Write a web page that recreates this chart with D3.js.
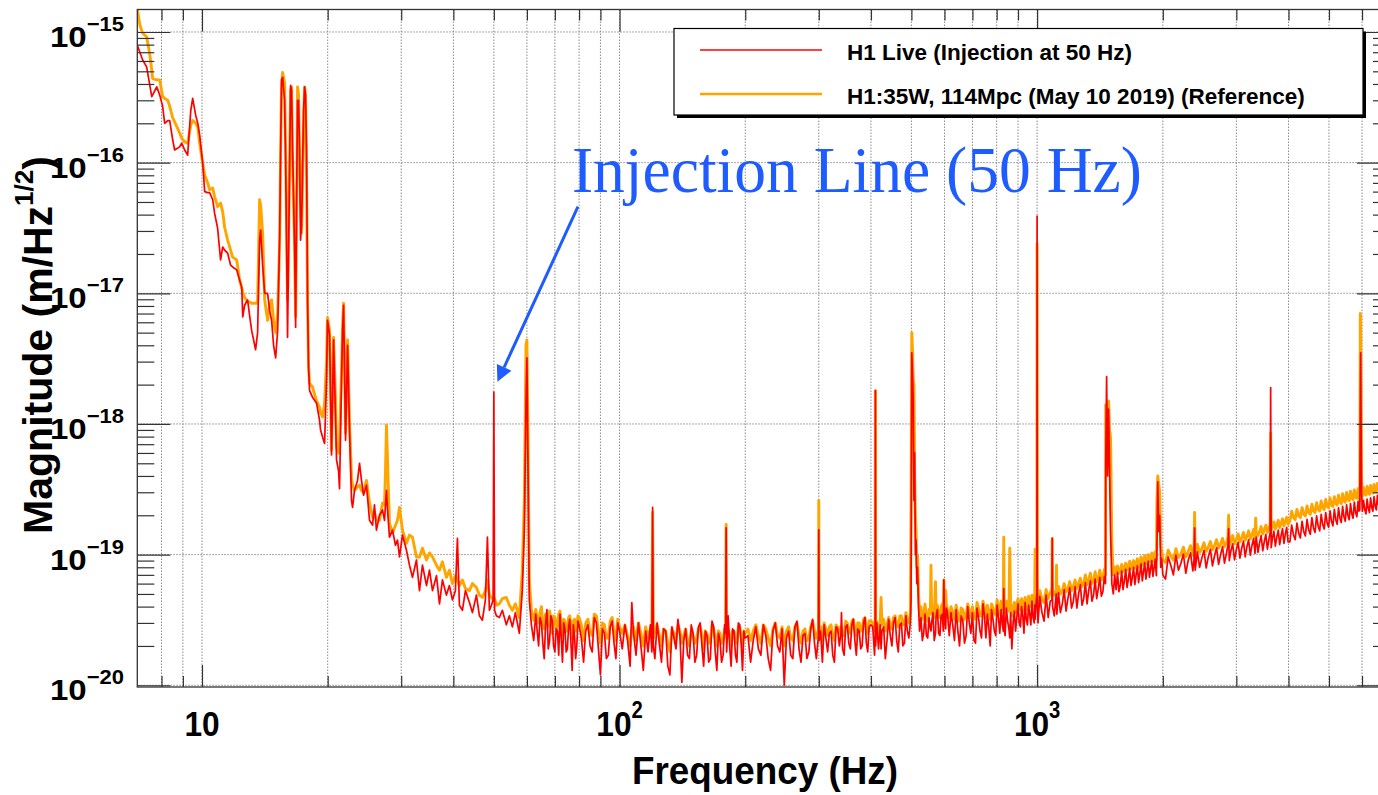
<!DOCTYPE html>
<html>
<head>
<meta charset="utf-8">
<script src="https://cdn.jsdelivr.net/npm/d3@7"></script>
<style>
  body { margin: 0; background: #fff; }
  svg { display: block; font-family: 'Liberation Sans', Arial, Helvetica, sans-serif; }
</style>
</head>
<body>
<svg id="chart" width="1378" height="795"></svg>
<script>
// shared frequency bins (Hz)
const freqHz = [
  // 7 - 62 Hz
  7.0, 7.10, 7.21, 7.37, 7.50, 7.58, 7.62, 7.79, 7.92, 8.05,
  8.14, 8.28, 8.37, 8.51, 8.60, 8.84, 8.94, 9.09, 9.24, 9.40,
  9.50, 9.66, 9.77, 9.87, 10.04, 10.15, 10.32, 10.43, 10.61, 10.72,
  10.90, 11.08, 11.21, 11.33, 11.52, 11.71, 11.84, 12.11, 12.31, 12.45,
  12.52, 12.65, 12.86, 13.00, 13.15, 13.44, 13.59, 13.74, 13.82, 13.97,
  14.13, 14.36, 14.52, 14.68, 14.84, 15.01, 15.18, 15.35, 15.43, 15.51,
  15.60, 15.77, 15.86, 15.95, 16.03, 16.21, 16.30, 16.39, 16.48, 16.67,
  16.76, 16.85, 16.94, 17.03, 17.13, 17.22, 17.32, 17.51, 17.61, 17.70,
  17.80, 17.90, 18.00, 18.10, 18.40, 18.81, 19.12, 19.23, 19.45, 19.66,
  19.88, 19.98, 20.21, 20.43, 20.66, 20.89, 21.00, 21.23, 21.35, 21.59,
  21.71, 21.83, 21.95, 22.07, 22.32, 22.56, 22.81, 22.94, 23.19, 23.58,
  23.84, 24.10, 24.37, 24.77, 25.19, 25.61, 25.89, 26.17, 26.61, 27.06,
  27.36, 27.51, 27.66, 27.82, 28.12, 28.59, 29.07, 29.39, 29.72, 30.21,
  30.88, 31.40, 31.92, 32.63, 33.18, 33.73, 34.49, 35.06, 35.65, 36.44,
  37.05, 37.66, 38.49, 39.13, 39.79, 40.45, 40.90, 41.35, 42.04, 42.75,
  43.70, 44.43, 45.42, 46.18, 46.94, 47.72, 48.26, 48.79, 49.33, 49.8,
  50.0, 50.2, 50.70, 51.54, 52.40, 53.57, 54.46, 55.38, 56.30, 57.54,
  58.50, 59.16, 59.7, 60.0, 60.3, 60.8, 61.5, 62.3,
  // 63 - 100 Hz
  63, 63.5, 64, 64.5, 65, 65.5, 66, 66.5, 67, 67.5,
  68, 68.5, 69, 69.5, 70, 70.5, 71, 71.5, 72, 72.5,
  73, 73.5, 74, 74.5, 75, 75.5, 76, 76.5, 77, 77.5,
  78, 78.5, 79, 79.5, 80,
  81, 82, 83, 84, 85, 86, 87, 88, 89, 90,
  91, 92, 93, 94, 95, 96, 97, 98, 99, 100,
  // 100 - 200 Hz
  101.5, 103, 104.5, 106, 107, 108, 109.5, 111, 112.5, 114,
  115.5, 117, 118.5, 119.5, 120, 120.5, 121.5, 123, 124.5, 126,
  127.5, 129, 130.5, 132, 133.5, 135, 136.5, 138, 139.5, 141,
  142.5, 144, 145.5, 147, 148.5, 150, 151.5, 153, 154.5, 156,
  157.5, 159, 160.5, 162, 163.5, 165, 166.5, 168, 169.5, 171,
  172.5, 174, 175.5, 177, 178.5, 179.5, 180, 180.5, 182, 183.5,
  185, 186.5, 188, 189.5, 191, 192.5, 194, 195.5, 197, 198.5,
  200,
  // 200 - 400 Hz
  203, 206, 209, 212, 215, 218, 221, 224, 227, 230,
  233, 236, 239, 242, 245, 248, 251, 254, 257, 260,
  263, 266, 269, 272, 275, 278, 281, 284, 287, 290,
  293, 296, 299.5, 300, 300.5, 303, 306, 309, 312, 315,
  318, 321, 324, 327, 330, 333, 336, 339, 340, 342,
  345, 348, 351, 354, 357, 360, 363, 366, 369, 372,
  375, 378, 381, 384, 387, 390, 393, 396, 400,
  // 400 - 610 Hz
  404, 408, 409.5, 410, 410.5, 413, 417, 421, 423, 425,
  429, 433, 437, 441, 445, 449, 453, 457, 461, 465,
  469, 473, 477, 481, 485, 489, 493, 497, 499, 501,
  503, 505, 507, 509, 511, 513, 515, 517, 520, 523,
  527, 531, 535, 539, 543, 547, 551, 555, 557, 559,
  563, 567, 571, 573, 577, 581, 585, 589, 593, 596,
  598, 600, 602, 604, 606, 610,
  // 610 - 1000 Hz
  616, 622, 628, 634, 640, 646, 652, 658, 664, 670,
  676, 682, 688, 694, 700, 706, 712, 718, 724, 730,
  736, 742, 748, 754, 760, 766, 772, 778, 784, 790,
  796, 802, 808, 814, 820, 826, 830, 832, 834, 838,
  844, 850, 856, 860, 864, 870, 876, 882, 888, 894,
  900, 906, 912, 918, 924, 930, 936, 942, 948, 954,
  960, 966, 972, 978, 984, 987, 989, 991, 995, 999,
  1000, 1000.5, 1002,
  // 1000 - 2000 Hz
  1005, 1015, 1027, 1039, 1051, 1063, 1075, 1085, 1087, 1089,
  1099, 1111, 1113, 1115, 1125, 1137, 1149, 1161, 1173, 1185,
  1197, 1209, 1221, 1233, 1245, 1257, 1269, 1281, 1293, 1305,
  1317, 1329, 1341, 1353, 1365, 1377, 1389, 1401, 1413, 1425,
  1437, 1449, 1458, 1460, 1467, 1475, 1483, 1491, 1499, 1510,
  1522, 1534, 1546, 1558, 1570, 1582, 1594, 1606, 1618, 1630,
  1642, 1654, 1666, 1678, 1690, 1702, 1714, 1726, 1738, 1750,
  1762, 1774, 1786, 1798, 1810, 1822, 1834, 1846, 1858, 1870,
  1882, 1894, 1906, 1918, 1930, 1936, 1945, 1956, 1966, 1977,
  1988, 2000,
  // 2000 - 4000 Hz
  2030, 2060, 2090, 2120, 2150, 2180, 2210, 2240, 2270, 2300,
  2330, 2360, 2375, 2383, 2391, 2420, 2450, 2480, 2510, 2540,
  2570, 2600, 2630, 2660, 2690, 2720, 2750, 2780, 2810, 2840,
  2865, 2875, 2885, 2910, 2940, 2970, 3000, 3030, 3060, 3090,
  3120, 3150, 3180, 3210, 3240, 3270, 3300, 3325, 3337, 3349,
  3380, 3410, 3440, 3470, 3500, 3530, 3560, 3590, 3615, 3625,
  3635, 3660, 3690, 3720, 3750, 3780, 3810, 3840, 3870, 3900,
  3930, 3960, 3990,
  // 4000 - 6570 Hz
  4030, 4070, 4110, 4150, 4190, 4230, 4270, 4310, 4350, 4390,
  4430, 4470, 4510, 4550, 4590, 4630, 4670, 4710, 4750, 4790,
  4830, 4870, 4910, 4950, 4990, 5030, 5070, 5110, 5150, 5190,
  5230, 5270, 5310, 5350, 5390, 5430, 5470, 5510, 5550, 5590,
  5630, 5670, 5710, 5750, 5790, 5830, 5870, 5900, 5925, 5935,
  5943, 5955, 5968, 5985, 6010, 6050, 6090, 6130, 6170, 6210,
  6250, 6290, 6330, 6370, 6410, 6450, 6490, 6530, 6570
]

// H1 Live (Injection at 50 Hz), m/Hz^1/2
const liveMag = [
  7.9e-16, 7.0e-16, 6.1e-16, 5.4e-16, 3.9e-16, 3.2e-16, 3.3e-16, 3.8e-16, 3.3e-16, 2.7e-16,
  2.0e-16, 2.1e-16, 2.1e-16, 1.49e-16, 1.25e-16, 1.32e-16, 1.41e-16, 1.25e-16, 1.14e-16, 2.5e-16,
  3.1e-16, 2.3e-16, 2.0e-16, 1.63e-16, 9.9e-17, 6.0e-17, 5.9e-17, 5.9e-17, 5.2e-17, 4.1e-17,
  3.15e-17, 1.8e-17, 2.26e-17, 2.14e-17, 2.03e-17, 1.64e-17, 1.59e-17, 1.51e-17, 1.26e-17, 1.11e-17,
  6.6e-18, 8.1e-18, 8.9e-18, 6.8e-18, 5.2e-18, 3.7e-18, 5.0e-18, 2.55e-17, 3.05e-17, 1.64e-17,
  1.0e-17, 1.0e-17, 7.4e-18, 6.2e-18, 4.0e-18, 3.2e-18, 5.2e-18, 2.9e-17, 1.25e-16, 4.3e-16,
  4.5e-16, 3.0e-16, 1.05e-16, 2.14e-17, 4.6e-18, 8.8e-17, 3.9e-16, 3.6e-16, 1.25e-16, 2.14e-17,
  5.5e-18, 5.2e-17, 3.0e-16, 3.0e-16, 1.25e-16, 2.55e-17, 3.3e-17, 2.5e-16, 3.8e-16, 3.3e-16,
  1.25e-16, 8.9e-18, 2.7e-18, 1.8e-18, 1.6e-18, 1.44e-18, 1.07e-18, 9.0e-19, 7.9e-19, 7.1e-19,
  2.2e-18, 6.2e-18, 4.8e-18, 5.8e-19, 4.4e-18, 1.07e-18, 5.3e-19, 4.4e-19, 3.2e-19, 2.2e-18,
  5.2e-18, 8.1e-18, 2.6e-18, 7.5e-19, 4.0e-18, 9.0e-19, 2.6e-19, 2.3e-19, 3.1e-19, 3.7e-19,
  5.0e-19, 3.7e-19, 2.85e-19, 3.4e-19, 1.83e-19, 1.68e-19, 2.4e-19, 1.54e-19, 2.0e-19, 2.2e-19,
  1.83e-19, 2.4e-19, 3.1e-19, 2.2e-19, 1.36e-19, 1.54e-19, 1.18e-19, 1.29e-19, 9.6e-20, 1.41e-19,
  1.08e-19, 8.3e-20, 6.7e-20, 9.1e-20, 5.3e-20, 8.3e-20, 5.8e-20, 7.6e-20, 5.3e-20, 6.9e-20,
  4.2e-20, 6.4e-20, 4.9e-20, 5.8e-20, 4.5e-20, 5.3e-20, 1.33e-19, 4.1e-20, 3.75e-20, 5.3e-20,
  4.3e-20, 3.6e-20, 4.9e-20, 3.4e-20, 3.15e-20, 4.5e-20, 1.36e-19, 3.75e-20, 4.1e-20, 4.5e-20,
  1.75e-18, 3.75e-20, 3.4e-20, 3.3e-20, 3.75e-20, 2.9e-20, 3.4e-20, 2.8e-20, 3.6e-20, 2.5e-20,
  5.3e-20, 1.54e-19, 1.5e-18, 3.2e-18, 6.3e-19, 4.5e-20, 2.9e-20, 2.2e-20,
  3.5e-20, 2.6e-20, 2.0e-20, 3.3e-20, 3.0e-20, 2.1e-20, 1.6e-20, 2.9e-20, 3.8e-20, 1.9e-20,
  2.2e-20, 3.4e-20, 3.1e-20, 2.0e-20, 1.8e-20, 2.7e-20, 2.6e-20, 1.7e-20, 3.5e-20, 2.3e-20,
  1.5e-20, 3.0e-20, 2.7e-20, 1.8e-20, 1.9e-20, 2.8e-20, 3.2e-20, 2.1e-20, 1.3e-20, 2.9e-20,
  2.4e-20, 1.6e-20, 2.0e-20, 3.1e-20, 2.9e-20,
  2.3e-20, 1.5e-20, 2.6e-20, 2.9e-20, 2.0e-20, 1.8e-20, 3.3e-20, 3.0e-20, 1.9e-20, 1.2e-20,
  2.7e-20, 2.5e-20, 1.6e-20, 1.7e-20, 2.8e-20, 3.1e-20, 2.1e-20, 1.6e-20, 3.0e-20, 2.6e-20,
  1.9e-20, 2.9e-20, 2.2e-20, 1.4e-20, 4.3e-20, 2.5e-20, 1.7e-20, 3.0e-20, 2.0e-20, 1.3e-20,
  2.6e-20, 1.8e-20, 2.9e-20, 1.8e-20, 23e-20, 2.0e-20, 1.6e-20, 3.0e-20, 2.1e-20, 1.5e-20,
  2.7e-20, 2.6e-20, 1.4e-20, 1.2e-20, 2.8e-20, 2.3e-20, 1.9e-20, 3.2e-20, 2.4e-20, 1.05e-20,
  2.2e-20, 2.7e-20, 1.7e-20, 1.6e-20, 2.9e-20, 2.5e-20, 1.5e-20, 1.7e-20, 2.8e-20, 3.0e-20,
  2.0e-20, 1.4e-20, 2.6e-20, 2.4e-20, 1.5e-20, 1.6e-20, 3.1e-20, 2.8e-20, 1.8e-20, 1.3e-20,
  2.5e-20, 2.2e-20, 1.5e-20, 1.7e-20, 2.9e-20, 2.5e-20, 16e-20, 1.8e-20, 3.4e-20, 2.0e-20,
  1.4e-20, 2.7e-20, 2.6e-20, 1.7e-20, 1.5e-20, 3.0e-20, 2.9e-20, 2.1e-20, 1.3e-20, 2.6e-20,
  2.3e-20,
  2.4e-20, 1.5e-20, 2.2e-20, 2.8e-20, 1.9e-20, 1.7e-20, 2.9e-20, 2.4e-20, 1.6e-20, 1.3e-20,
  2.6e-20, 3.0e-20, 2.0e-20, 1.8e-20, 2.7e-20, 1.0e-20, 2.3e-20, 2.6e-20, 1.7e-20, 1.6e-20,
  2.8e-20, 3.1e-20, 1.9e-20, 1.5e-20, 2.4e-20, 2.5e-20, 1.6e-20, 1.8e-20, 2.7e-20, 3.2e-20,
  2.1e-20, 1.6e-20, 2.4e-20, 15.5e-20, 2.2e-20, 2.6e-20, 1.5e-20, 2.9e-20, 2.3e-20, 1.8e-20,
  2.5e-20, 2.6e-20, 1.7e-20, 1.5e-20, 2.8e-20, 2.7e-20, 2.0e-20, 2.5e-20, 3.6e-20, 1.9e-20,
  1.7e-20, 2.8e-20, 2.9e-20, 2.1e-20, 1.9e-20, 2.9e-20, 3.2e-20, 2.2e-20, 1.7e-20, 2.7e-20,
  2.6e-20, 1.9e-20, 2.0e-20, 3.0e-20, 3.3e-20, 2.1e-20, 1.8e-20, 2.8e-20, 2.9e-20,
  2.8e-20, 1.7e-20, 2.4e-20, 180e-20, 2.0e-20, 3.0e-20, 1.9e-20, 2.9e-20, 1.9e-20, 2.6e-20,
  2.8e-20, 1.6e-20, 2.2e-20, 3.2e-20, 2.4e-20, 2.0e-20, 3.0e-20, 3.3e-20, 2.2e-20, 1.8e-20,
  2.9e-20, 3.0e-20, 2.0e-20, 2.1e-20, 3.4e-20, 2.6e-20, 2.3e-20, 3.0e-20, 4.5e-20, 350e-20,
  250e-20, 150e-20, 26e-20, 60e-20, 10e-20, 13e-20, 6.0e-20, 8.0e-20, 4.0e-20, 2.6e-20,
  3.3e-20, 2.2e-20, 2.5e-20, 3.5e-20, 2.4e-20, 2.3e-20, 3.3e-20, 2.7e-20, 2.6e-20, 3.0e-20,
  3.6e-20, 2.2e-20, 2.5e-20, 3.4e-20, 3.8e-20, 2.5e-20, 2.4e-20, 3.4e-20, 3.5e-20, 2.6e-20,
  6.4e-20, 3.3e-20, 2.9e-20, 2.7e-20, 3.9e-20, 3.6e-20,
  2.4e-20, 3.6e-20, 2.9e-20, 2.2e-20, 3.8e-20, 2.6e-20, 2.0e-20, 3.4e-20, 3.1e-20, 2.1e-20,
  2.4e-20, 4.0e-20, 3.0e-20, 2.5e-20, 3.6e-20, 2.2e-20, 2.1e-20, 3.9e-20, 3.3e-20, 2.6e-20,
  2.3e-20, 4.2e-20, 3.4e-20, 2.3e-20, 3.5e-20, 2.8e-20, 2.0e-20, 3.8e-20, 3.2e-20, 2.6e-20,
  2.4e-20, 4.1e-20, 3.3e-20, 2.5e-20, 3.8e-20, 2.9e-20, 2.6e-20, 5.5e-20, 2.7e-20, 2.4e-20,
  3.9e-20, 3.1e-20, 2.7e-20, 2.3e-20, 3.6e-20, 1.9e-20, 3.0e-20, 3.7e-20, 2.6e-20, 3.3e-20,
  4.2e-20, 3.0e-20, 2.8e-20, 4.0e-20, 3.4e-20, 2.5e-20, 4.3e-20, 3.2e-20, 2.9e-20, 4.1e-20,
  3.5e-20, 2.9e-20, 4.4e-20, 3.3e-20, 3.0e-20, 4.1e-20, 3.2e-20, 3.6e-20, 4.4e-20, 5.0e-20,
  3900e-20, 8.0e-20, 4.0e-20,
  3.0e-20, 4.8e-20, 3.6e-20, 3.1e-20, 4.9e-20, 3.3e-20, 4.4e-20, 4.5e-20, 13.3e-20, 4.0e-20,
  3.4e-20, 5.0e-20, 4.2e-20, 3.5e-20, 5.1e-20, 3.6e-20, 4.2e-20, 5.4e-20, 3.7e-20, 4.6e-20,
  5.6e-20, 3.9e-20, 4.4e-20, 5.7e-20, 3.9e-20, 5.0e-20, 5.9e-20, 4.1e-20, 4.6e-20, 6.1e-20,
  4.2e-20, 5.3e-20, 6.3e-20, 4.4e-20, 4.9e-20, 6.5e-20, 4.6e-20, 5.5e-20, 6.7e-20, 4.8e-20,
  5.2e-20, 6.8e-20, 6.0e-20, 50e-20, 230e-20, 40e-20, 130e-20, 45e-20, 15e-20, 6.0e-20,
  5.0e-20, 7.0e-20, 5.4e-20, 7.3e-20, 5.2e-20, 5.8e-20, 7.5e-20, 5.4e-20, 6.3e-20, 7.7e-20,
  5.6e-20, 6.5e-20, 7.9e-20, 5.8e-20, 6.7e-20, 8.0e-20, 5.9e-20, 7.0e-20, 8.2e-20, 6.1e-20,
  7.2e-20, 8.5e-20, 6.3e-20, 7.4e-20, 8.7e-20, 6.5e-20, 7.6e-20, 8.9e-20, 6.7e-20, 7.8e-20,
  9.0e-20, 6.8e-20, 8.0e-20, 9.2e-20, 6.9e-20, 11e-20, 36e-20, 15e-20, 20e-20, 8.0e-20,
  9.3e-20, 7.0e-20,
  6.5e-20, 9.6e-20, 8.3e-20, 7.0e-20, 9.9e-20, 7.6e-20, 8.6e-20, 10.1e-20, 7.2e-20, 9.0e-20,
  10.3e-20, 7.5e-20, 9.0e-20, 16e-20, 7.6e-20, 10.5e-20, 8.0e-20, 9.4e-20, 10.8e-20, 7.9e-20,
  9.6e-20, 11.0e-20, 8.2e-20, 9.8e-20, 11.3e-20, 8.4e-20, 10.0e-20, 11.5e-20, 8.6e-20, 10.2e-20,
  11.8e-20, 15.8e-20, 9.0e-20, 10.6e-20, 12.1e-20, 9.1e-20, 10.9e-20, 12.4e-20, 9.4e-20, 11.2e-20,
  12.7e-20, 9.6e-20, 11.5e-20, 13.0e-20, 9.9e-20, 11.8e-20, 13.3e-20, 10.2e-20, 12.5e-20, 13.6e-20,
  10.4e-20, 12.3e-20, 14.0e-20, 10.7e-20, 12.6e-20, 14.3e-20, 11.0e-20, 13.0e-20, 14.8e-20, 190e-20,
  11.3e-20, 13.3e-20, 15.1e-20, 11.6e-20, 13.6e-20, 15.4e-20, 11.9e-20, 14.0e-20, 15.8e-20, 12.2e-20,
  14.4e-20, 16.2e-20, 12.5e-20,
  12.5e-20, 16.8e-20, 14.2e-20, 13.0e-20, 17.4e-20, 14.6e-20, 13.4e-20, 18.0e-20, 15.0e-20, 13.9e-20,
  18.6e-20, 15.5e-20, 14.3e-20, 19.2e-20, 16.0e-20, 14.8e-20, 19.8e-20, 16.5e-20, 15.2e-20, 20.3e-20,
  17.0e-20, 15.7e-20, 21.0e-20, 17.5e-20, 16.2e-20, 21.6e-20, 18.0e-20, 16.6e-20, 22.2e-20, 18.5e-20,
  17.1e-20, 22.8e-20, 19.0e-20, 17.6e-20, 23.4e-20, 19.5e-20, 18.0e-20, 24.0e-20, 20.0e-20, 18.5e-20,
  24.6e-20, 20.5e-20, 19.0e-20, 25.2e-20, 21.0e-20, 19.5e-20, 25.6e-20, 21.5e-20, 22e-20, 50e-20,
  130e-20, 350e-20, 100e-20, 30e-20, 21.5e-20, 26.0e-20, 22.0e-20, 20.5e-20, 26.6e-20, 22.5e-20,
  21.0e-20, 27.2e-20, 23.0e-20, 21.5e-20, 27.8e-20, 23.5e-20, 22.0e-20, 28.4e-20, 24.0e-20
]

// H1:35W, 114Mpc (May 10 2019) reference, m/Hz^1/2
const refMag = [
  1.5e-15, 1.13e-15, 9.8e-16, 9.2e-16, 6.7e-16, 5.1e-16, 4.4e-16, 4.3e-16, 4.3e-16, 3.2e-16,
  3.1e-16, 3.0e-16, 2.7e-16, 2.2e-16, 2.05e-16, 1.69e-16, 1.54e-16, 1.44e-16, 1.41e-16, 1.94e-16,
  2.1e-16, 2.0e-16, 1.87e-16, 1.41e-16, 9.9e-17, 8.0e-17, 7.0e-17, 6.2e-17, 6.4e-17, 5.5e-17,
  4.6e-17, 4.9e-17, 4.2e-17, 3.2e-17, 2.55e-17, 2.14e-17, 1.89e-17, 1.8e-17, 1.26e-17, 1.10e-17,
  1.02e-17, 9.3e-18, 8.6e-18, 8.6e-18, 8.4e-18, 8.4e-18, 8.4e-18, 5.2e-17, 4.7e-17, 2.9e-17,
  8.9e-18, 6.2e-18, 8.1e-18, 8.9e-18, 6.2e-18, 5.0e-18, 7.0e-18, 2.55e-17, 1.25e-16, 3.9e-16,
  4.9e-16, 4.1e-16, 1.25e-16, 2.9e-17, 8.9e-18, 9.2e-17, 3.6e-16, 3.8e-16, 1.05e-16, 2.14e-17,
  6.6e-18, 3.6e-17, 3.8e-16, 3.3e-16, 1.05e-16, 5.2e-17, 2.9e-17, 2.1e-16, 3.8e-16, 3.3e-16,
  8.3e-17, 8.9e-18, 2.7e-18, 2.05e-18, 1.91e-18, 1.5e-18, 1.34e-18, 1.23e-18, 1.13e-18, 1.44e-18,
  3.1e-18, 6.5e-18, 5.2e-18, 6.3e-19, 4.6e-18, 1.5e-18, 6.6e-19, 6.0e-19, 7.5e-19, 2.6e-18,
  5.5e-18, 8.4e-18, 3.1e-18, 8.5e-19, 4.4e-18, 1.01e-18, 3.9e-19, 3.4e-19, 3.1e-19, 3.3e-19,
  3.4e-19, 3.1e-19, 3.0e-19, 3.7e-19, 2.48e-19, 1.93e-19, 2.1e-19, 1.83e-19, 1.83e-19, 2.48e-19,
  2.4e-19, 4.4e-19, 9.8e-19, 5.3e-19, 1.74e-19, 1.46e-19, 1.68e-19, 1.83e-19, 2.3e-19, 1.54e-19,
  1.22e-19, 1.41e-19, 1.36e-19, 9.6e-20, 9.6e-20, 1.12e-19, 9.1e-20, 1.03e-19, 9.6e-20, 8.3e-20,
  7.6e-20, 8.8e-20, 6.7e-20, 7.6e-20, 6.0e-20, 6.9e-20, 6.4e-20, 5.8e-20, 6.4e-20, 5.5e-20,
  5.3e-20, 6.0e-20, 5.6e-20, 4.9e-20, 4.7e-20, 5.3e-20, 6.4e-20, 4.9e-20, 4.7e-20, 4.5e-20,
  4.5e-20, 4.6e-20, 4.1e-20, 4.2e-20, 4.6e-20, 4.7e-20, 4.1e-20, 3.75e-20, 4.2e-20, 3.3e-20,
  7.6e-20, 2.6e-19, 4.0e-18, 4.4e-18, 1.07e-18, 6.4e-20, 3.75e-20, 3.15e-20,
  3.8e-20, 3.2e-20, 3.0e-20, 3.6e-20, 4.0e-20, 2.9e-20, 2.7e-20, 3.5e-20, 3.4e-20, 2.8e-20,
  3.7e-20, 3.1e-20, 2.5e-20, 3.4e-20, 3.3e-20, 2.7e-20, 2.8e-20, 3.5e-20, 3.7e-20, 2.9e-20,
  2.4e-20, 3.2e-20, 3.1e-20, 2.6e-20, 2.6e-20, 3.3e-20, 3.4e-20, 2.7e-20, 2.3e-20, 3.1e-20,
  3.2e-20, 2.6e-20, 2.8e-20, 3.4e-20, 3.3e-20,
  2.9e-20, 2.2e-20, 3.0e-20, 3.2e-20, 2.5e-20, 2.4e-20, 3.5e-20, 3.4e-20, 2.6e-20, 2.1e-20,
  3.0e-20, 2.9e-20, 2.3e-20, 2.3e-20, 3.1e-20, 3.3e-20, 2.5e-20, 2.2e-20, 3.2e-20, 2.8e-20,
  2.5e-20, 2.9e-20, 2.4e-20, 2.0e-20, 2.6e-20, 2.8e-20, 2.2e-20, 3.0e-20, 2.5e-20, 2.0e-20,
  2.8e-20, 2.3e-20, 2.7e-20, 2.4e-20, 21e-20, 2.3e-20, 2.6e-20, 2.9e-20, 2.4e-20, 2.0e-20,
  2.7e-20, 2.6e-20, 2.1e-20, 1.8e-20, 2.7e-20, 2.5e-20, 2.2e-20, 2.9e-20, 2.6e-20, 2.1e-20,
  2.4e-20, 2.7e-20, 2.2e-20, 2.0e-20, 2.6e-20, 2.4e-20, 2.1e-20, 2.3e-20, 2.7e-20, 2.8e-20,
  2.4e-20, 1.9e-20, 2.6e-20, 2.5e-20, 2.1e-20, 2.2e-20, 2.9e-20, 2.7e-20, 2.3e-20, 2.0e-20,
  2.6e-20, 2.5e-20, 2.1e-20, 2.2e-20, 2.7e-20, 2.6e-20, 17e-20, 2.3e-20, 2.7e-20, 2.4e-20,
  2.0e-20, 2.6e-20, 2.6e-20, 2.2e-20, 2.1e-20, 2.8e-20, 2.8e-20, 2.4e-20, 2.0e-20, 2.6e-20,
  2.5e-20,
  2.7e-20, 2.2e-20, 2.6e-20, 2.9e-20, 2.4e-20, 2.1e-20, 2.9e-20, 2.7e-20, 2.3e-20, 2.0e-20,
  2.7e-20, 3.0e-20, 2.4e-20, 2.3e-20, 2.8e-20, 2.0e-20, 2.6e-20, 2.8e-20, 2.3e-20, 2.2e-20,
  2.8e-20, 3.0e-20, 2.4e-20, 2.1e-20, 2.6e-20, 2.7e-20, 2.2e-20, 2.3e-20, 2.8e-20, 3.1e-20,
  2.6e-20, 2.3e-20, 2.7e-20, 26e-20, 2.6e-20, 2.8e-20, 2.2e-20, 3.0e-20, 2.7e-20, 2.4e-20,
  2.8e-20, 2.9e-20, 2.4e-20, 2.2e-20, 2.9e-20, 2.8e-20, 2.5e-20, 2.8e-20, 2.6e-20, 2.5e-20,
  2.4e-20, 3.1e-20, 3.0e-20, 2.6e-20, 2.5e-20, 3.1e-20, 3.2e-20, 2.7e-20, 2.4e-20, 3.0e-20,
  3.0e-20, 2.6e-20, 2.6e-20, 3.2e-20, 3.3e-20, 2.7e-20, 2.5e-20, 3.1e-20, 3.1e-20,
  3.0e-20, 2.6e-20, 2.9e-20, 180e-20, 2.7e-20, 3.1e-20, 2.5e-20, 3.0e-20, 4.7e-20, 2.9e-20,
  3.2e-20, 2.6e-20, 2.9e-20, 3.3e-20, 2.9e-20, 2.7e-20, 3.3e-20, 3.4e-20, 2.9e-20, 2.8e-20,
  3.4e-20, 3.4e-20, 2.9e-20, 2.9e-20, 3.6e-20, 3.1e-20, 3.0e-20, 3.5e-20, 20e-20, 500e-20,
  370e-20, 220e-20, 200e-20, 40e-20, 20e-20, 15e-20, 8.0e-20, 10e-20, 5.0e-20, 3.4e-20,
  4.0e-20, 3.2e-20, 3.4e-20, 4.2e-20, 3.3e-20, 3.1e-20, 3.8e-20, 3.5e-20, 8.3e-20, 3.6e-20,
  4.0e-20, 3.3e-20, 6.2e-20, 3.6e-20, 4.1e-20, 3.4e-20, 3.3e-20, 4.0e-20, 4.2e-20, 3.6e-20,
  6.4e-20, 4.0e-20, 3.8e-20, 5.3e-20, 4.2e-20, 3.8e-20,
  3.3e-20, 4.0e-20, 3.6e-20, 3.2e-20, 4.1e-20, 3.5e-20, 3.1e-20, 3.9e-20, 3.8e-20, 3.2e-20,
  3.4e-20, 4.2e-20, 3.7e-20, 3.3e-20, 4.0e-20, 3.3e-20, 3.2e-20, 4.3e-20, 3.9e-20, 3.4e-20,
  3.4e-20, 4.4e-20, 3.9e-20, 3.3e-20, 4.1e-20, 3.6e-20, 3.2e-20, 4.2e-20, 3.9e-20, 3.5e-20,
  3.5e-20, 4.5e-20, 4.0e-20, 3.5e-20, 4.4e-20, 3.8e-20, 4.0e-20, 13.6e-20, 4.2e-20, 3.6e-20,
  4.4e-20, 4.0e-20, 3.7e-20, 11.2e-20, 4.2e-20, 3.4e-20, 3.9e-20, 4.3e-20, 3.6e-20, 4.1e-20,
  4.6e-20, 3.9e-20, 3.8e-20, 4.6e-20, 4.2e-20, 3.7e-20, 4.7e-20, 4.1e-20, 3.8e-20, 4.8e-20,
  4.3e-20, 4.0e-20, 4.9e-20, 4.3e-20, 4.1e-20, 5.0e-20, 11e-20, 4.6e-20, 4.6e-20, 5.0e-20,
  2400e-20, 520e-20, 4.8e-20,
  4.2e-20, 5.3e-20, 4.5e-20, 4.3e-20, 5.4e-20, 4.6e-20, 5.1e-20, 5.5e-20, 13.3e-20, 5.2e-20,
  4.9e-20, 5.4e-20, 8.3e-20, 5.0e-20, 5.7e-20, 5.0e-20, 5.3e-20, 6.0e-20, 5.2e-20, 5.5e-20,
  6.2e-20, 5.3e-20, 5.7e-20, 6.4e-20, 5.5e-20, 6.0e-20, 6.6e-20, 5.7e-20, 6.0e-20, 7.0e-20,
  5.9e-20, 6.4e-20, 7.2e-20, 6.0e-20, 6.3e-20, 7.4e-20, 6.2e-20, 6.6e-20, 7.6e-20, 6.4e-20,
  6.6e-20, 7.7e-20, 7.0e-20, 140e-20, 120e-20, 100e-20, 150e-20, 90e-20, 79e-20, 12e-20,
  7.0e-20, 8.0e-20, 7.2e-20, 8.2e-20, 7.2e-20, 7.6e-20, 8.4e-20, 7.4e-20, 7.9e-20, 8.6e-20,
  7.6e-20, 8.2e-20, 8.9e-20, 7.8e-20, 8.3e-20, 9.0e-20, 7.9e-20, 8.5e-20, 9.3e-20, 8.0e-20,
  8.6e-20, 9.6e-20, 8.3e-20, 8.8e-20, 9.8e-20, 8.5e-20, 9.0e-20, 10e-20, 8.8e-20, 9.3e-20,
  10.3e-20, 8.9e-20, 9.6e-20, 10.5e-20, 9.1e-20, 25e-20, 40e-20, 34e-20, 30e-20, 12e-20,
  10.5e-20, 9.2e-20,
  8.7e-20, 10.8e-20, 9.8e-20, 9.1e-20, 11.1e-20, 9.5e-20, 10.1e-20, 11.4e-20, 9.6e-20, 10.5e-20,
  11.7e-20, 9.9e-20, 10.6e-20, 21e-20, 10.0e-20, 12.0e-20, 10.4e-20, 11.1e-20, 12.3e-20, 10.6e-20,
  11.4e-20, 12.6e-20, 10.9e-20, 11.7e-20, 13.0e-20, 11.2e-20, 12.0e-20, 13.3e-20, 11.5e-20, 12.3e-20,
  13.6e-20, 20e-20, 11.8e-20, 12.6e-20, 14.0e-20, 12.1e-20, 13.0e-20, 14.4e-20, 12.5e-20, 13.3e-20,
  14.8e-20, 12.9e-20, 13.8e-20, 15.2e-20, 13.2e-20, 14.1e-20, 15.6e-20, 13.6e-20, 19e-20, 14.8e-20,
  14.0e-20, 15.0e-20, 16.4e-20, 14.4e-20, 15.4e-20, 16.8e-20, 14.8e-20, 15.8e-20, 17.3e-20, 85e-20,
  15.3e-20, 16.4e-20, 17.8e-20, 15.7e-20, 16.8e-20, 18.3e-20, 16.1e-20, 17.3e-20, 18.8e-20, 16.6e-20,
  17.8e-20, 19.3e-20, 17.1e-20,
  18.0e-20, 21.5e-20, 19.2e-20, 18.6e-20, 22.2e-20, 19.8e-20, 19.2e-20, 22.9e-20, 20.4e-20, 19.8e-20,
  23.6e-20, 21.0e-20, 20.4e-20, 24.3e-20, 21.6e-20, 21.0e-20, 25.0e-20, 22.2e-20, 21.6e-20, 25.7e-20,
  22.8e-20, 22.2e-20, 26.4e-20, 23.4e-20, 22.8e-20, 27.1e-20, 24.0e-20, 23.4e-20, 27.8e-20, 24.6e-20,
  24.0e-20, 28.5e-20, 25.2e-20, 24.6e-20, 29.2e-20, 25.8e-20, 25.2e-20, 29.9e-20, 26.4e-20, 25.8e-20,
  30.6e-20, 27.0e-20, 26.4e-20, 31.3e-20, 27.6e-20, 27.0e-20, 32.0e-20, 28.2e-20, 26e-20, 150e-20,
  700e-20, 650e-20, 220e-20, 40e-20, 28.0e-20, 32.6e-20, 29.0e-20, 28.5e-20, 33.2e-20, 29.6e-20,
  29.0e-20, 33.8e-20, 30.2e-20, 29.6e-20, 34.4e-20, 30.8e-20, 30.2e-20, 35.0e-20, 31.4e-20
]

const seriesNames = ['H1 Live (Injection at 50 Hz)', 'H1:35W, 114Mpc (May 10 2019) (Reference)']
const seriesColors = ['#ff0000', '#ffa500']

const xMajorTicks = [10, 100, 1000]
const xTickExps = ['', '2', '3']
const yMajorTicks = [1e-20, 1e-19, 1e-18, 1e-17, 1e-16, 1e-15]
const yTickExps = ['\u221220', '\u221219', '\u221218', '\u221217', '\u221216', '\u221215']

const annotationText = 'Injection Line (50 Hz)'
const annotationAt = {freq: 76.9, mag: 5.96e-17}
const arrowFrom = {freq: 79.5, mag: 4.6e-17}
const arrowTo = {freq: 51, mag: 2.1e-18}

const svg = d3.select('#chart')
const frame = {left: 137.3, right: 1390, top: 9.5, bottom: 687}

const x = d3.scaleLog().domain([7, 7000]).range([frame.left, frame.right])
const y = d3.scaleLog().domain([9.7e-21, 1.486e-15]).range([frame.bottom, frame.top])

const n = Math.min(freqHz.length, liveMag.length, refMag.length)
const rows = d3.range(n).map(i => ({f: freqHz[i], live: liveMag[i], ref: refMag[i]}))

const isMajor = v => Math.abs(Math.log10(v) - Math.round(Math.log10(v))) < 1e-6
const xMinor = x.ticks().filter(v => !isMajor(v) && v > 7 && v < 7000)
const yMinor = y.ticks().filter(v => !isMajor(v))

svg.append('defs').append('clipPath').attr('id', 'plot-clip')
  .append('rect')
  .attr('x', frame.left).attr('y', frame.top)
  .attr('width', frame.right - frame.left).attr('height', frame.bottom - frame.top)

// grid
const grid = svg.append('g').attr('stroke', '#8c8c8c').attr('stroke-width', 1).attr('stroke-dasharray', '1.5,1.5')
grid.selectAll('line.vx')
  .data(xMinor.concat(xMajorTicks))
  .join('line')
  .attr('x1', d => x(d)).attr('x2', d => x(d))
  .attr('y1', frame.top).attr('y2', frame.bottom)
grid.selectAll('line.hy')
  .data(yMajorTicks)
  .join('line')
  .attr('x1', frame.left).attr('x2', frame.right)
  .attr('y1', d => y(d)).attr('y2', d => y(d))

// curves
const plot = svg.append('g').attr('clip-path', 'url(#plot-clip)')
const refLine = d3.line().x(d => x(d.f)).y(d => y(d.ref))
const liveLine = d3.line().x(d => x(d.f)).y(d => y(d.live))

plot.append('path')
  .datum(rows)
  .attr('fill', 'none')
  .attr('stroke', seriesColors[1])
  .attr('stroke-width', 2.9)
  .attr('stroke-linejoin', 'round')
  .attr('d', refLine)

plot.append('path')
  .datum(rows)
  .attr('fill', 'none')
  .attr('stroke', seriesColors[0])
  .attr('stroke-width', 1.7)
  .attr('stroke-linejoin', 'round')
  .attr('d', liveLine)

// frame
svg.append('rect')
  .attr('x', frame.left).attr('y', frame.top)
  .attr('width', frame.right - frame.left).attr('height', frame.bottom - frame.top)
  .attr('fill', 'none').attr('stroke', '#333').attr('stroke-width', 1.3)

// ticks
const tickAxis = (axis, values, size, tx, ty) => {
  const g = svg.append('g')
    .attr('transform', `translate(${tx}, ${ty})`)
    .call(axis.tickValues(values).tickSize(size).tickFormat(''))
  g.select('.domain').remove()
  g.selectAll('line').attr('stroke', '#333').attr('stroke-width', 1.2)
}
tickAxis(d3.axisRight(y), yMinor, 17, frame.left, 0)
tickAxis(d3.axisRight(y), yMajorTicks, 33, frame.left, 0)
tickAxis(d3.axisLeft(y), yMinor, 17, frame.right, 0)
tickAxis(d3.axisLeft(y), yMajorTicks, 33, frame.right, 0)
tickAxis(d3.axisTop(x), xMinor, 11, 0, frame.bottom)
tickAxis(d3.axisTop(x), xMajorTicks, 22, 0, frame.bottom)
tickAxis(d3.axisBottom(x), xMinor, 11, 0, frame.top)
tickAxis(d3.axisBottom(x), xMajorTicks, 22, 0, frame.top)

// y tick labels
yMajorTicks.forEach((v, i) => {
  const t = svg.append('text')
    .attr('transform', `translate(124, ${y(v) + 15}) scale(1.1, 1)`)
    .attr('text-anchor', 'end')
    .attr('font-weight', 'bold')
    .attr('font-size', 30)
  t.append('tspan').text('10')
  t.append('tspan').attr('font-size', 20).attr('dy', -16).text(yTickExps[i])
})

// x tick labels
xMajorTicks.forEach((v, i) => {
  const t = svg.append('text')
    .attr('transform', `translate(${x(v)}, 736) scale(0.88, 1)`)
    .attr('text-anchor', 'middle')
    .attr('font-weight', 'bold')
    .attr('font-size', 36)
  t.append('tspan').text('10')
  if (xTickExps[i]) t.append('tspan').attr('font-size', 23).attr('dy', -18).text(xTickExps[i])
})

// axis titles
svg.append('text')
  .attr('x', 765).attr('y', 784)
  .attr('text-anchor', 'middle')
  .attr('font-weight', 'bold')
  .attr('font-size', 38)
  .attr('textLength', 266)
  .attr('lengthAdjust', 'spacingAndGlyphs')
  .text('Frequency (Hz)')

const yTitle = svg.append('text')
  .attr('transform', 'translate(52, 345) rotate(-90)')
  .attr('text-anchor', 'middle')
  .attr('font-weight', 'bold')
  .attr('font-size', 41)
yTitle.append('tspan').text('Magnitude (m/Hz')
yTitle.append('tspan').attr('font-size', 26).attr('dy', -19).text('1/2')
yTitle.append('tspan').attr('dy', 19).text(')')

// legend
const legend = svg.append('g')
legend.append('rect').attr('x', 677).attr('y', 31.5).attr('width', 689).attr('height', 86.5).attr('fill', '#000')
legend.append('rect').attr('x', 674).attr('y', 28.5).attr('width', 689).attr('height', 86.5)
  .attr('fill', '#fff').attr('stroke', '#000').attr('stroke-width', 1.2)
const legendRows = [
  {name: seriesNames[0], color: seriesColors[0], width: 1.3, ly: 50},
  {name: seriesNames[1], color: seriesColors[1], width: 2.5, ly: 94}
]
legendRows.forEach(r => {
  legend.append('line')
    .attr('x1', 700).attr('x2', 822).attr('y1', r.ly).attr('y2', r.ly)
    .attr('stroke', r.color).attr('stroke-width', r.width)
  legend.append('text')
    .attr('x', 847).attr('y', r.ly + 10)
    .attr('font-weight', 'bold')
    .attr('font-size', 22.5)
    .text(r.name)
})

// annotation
const blue = '#1f5cff'
svg.append('text')
  .attr('x', x(annotationAt.freq)).attr('y', y(annotationAt.mag))
  .attr('font-family', "'Liberation Serif', 'Times New Roman', serif")
  .attr('font-size', 65)
  .attr('fill', blue)
  .attr('textLength', 570)
  .attr('lengthAdjust', 'spacingAndGlyphs')
  .text(annotationText)

const ax0 = x(arrowFrom.freq), ay0 = y(arrowFrom.mag)
const ax1 = x(arrowTo.freq), ay1 = y(arrowTo.mag)
const len = Math.hypot(ax1 - ax0, ay1 - ay0)
const ux = (ax1 - ax0) / len, uy = (ay1 - ay0) / len
const headLen = 16, headHalf = 8
const bx = ax1 - ux * headLen, by = ay1 - uy * headLen
svg.append('line')
  .attr('x1', ax0).attr('y1', ay0).attr('x2', bx).attr('y2', by)
  .attr('stroke', blue).attr('stroke-width', 3)
svg.append('path')
  .attr('d', `M${ax1},${ay1}L${bx - uy * headHalf},${by + ux * headHalf}L${bx + uy * headHalf},${by - ux * headHalf}Z`)
  .attr('fill', blue)
</script>
</body>
</html>
